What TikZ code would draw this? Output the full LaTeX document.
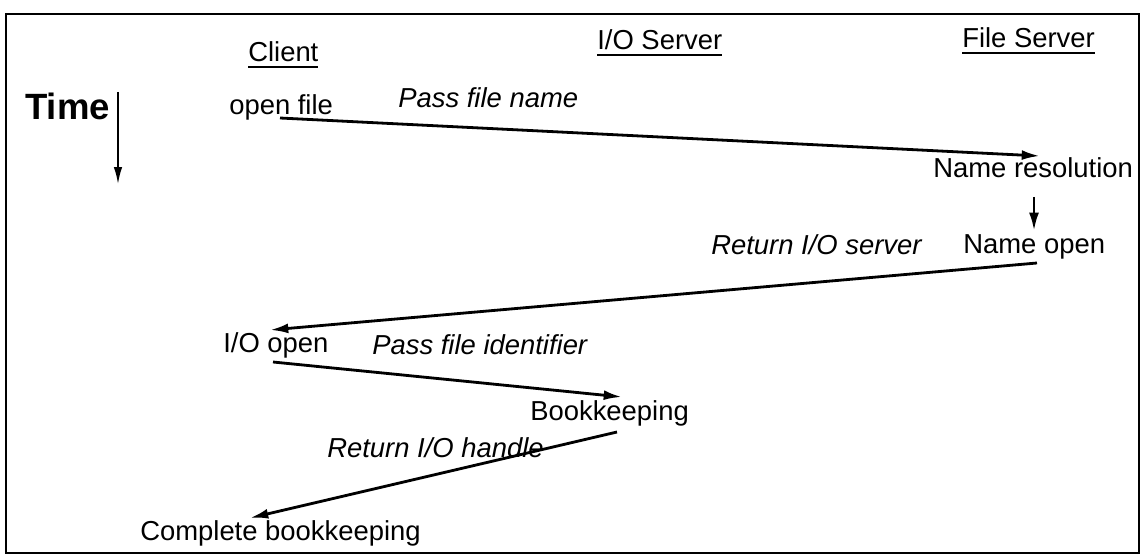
\documentclass[tikz,border=0pt]{standalone}
\usepackage{fontspec}
\setmainfont{Liberation Sans}
\usepackage{tikz}
\usetikzlibrary{
	arrows.meta,
	positioning
}
\newcommand{\hdrline}[1]{\leavevmode\vtop{\hbox{#1}\kern2.5pt\hrule height 1.6pt}}
\tikzset{
  % arrow
	cstmsg/.style     ={-{Latex[length=13pt,width=7pt]}, line width=2pt}, % message
	csttime/.style    ={-{Latex[length=12pt,width=6pt]}, line width=1.2pt}, % time axis
  % frame
	cstframe/.style   ={line width=1.5pt},
  % node
	cstnode/.style    ={inner sep=0pt, anchor=base west, font=\fontsize{19.5}{22}\selectfont},
	cstlabel/.style   ={cstnode, font=\fontsize{19.5}{22}\selectfont\itshape},
	cstbig/.style     ={cstnode, font=\fontsize{26}{30}\selectfont\bfseries}
}

\begin{document}
\begin{tikzpicture}[x=0.025cm,y=-0.025cm]
	\useasboundingbox (0,0) rectangle (1142,556);
	\draw[cstframe] (6,14) rectangle (1139,553);
	% column heads
	\node[cstnode] (client) at (248,62) {\hdrline{Client}};
	\node[cstnode] (ioserver) at (597,50) {\hdrline{I/O Server}};
	\node[cstnode] (fileserver) at (962,48) {\hdrline{File Server}};
	% time
	\node[cstbig] (time) at (25,120) {Time};
	\draw[csttime] ([shift={(93,-28)}]time.base west) -- ([shift={(93,64)}]time.base west);
	% events
	\node[cstnode] (open) at (229,115) {open file};
	\node[cstnode] (nres) at (933,178) {Name resolution};
	\node[cstnode] (nopen) at (963,254) {Name open};
	\node[cstnode] (ioopen) at (223,353) {I/O open};
	\node[cstnode] (book) at (530,420) {Bookkeeping};
	\node[cstnode] (done) at (140,540) {Complete bookkeeping};
	% messages
	\node[cstlabel] (m1) at (398,108) {Pass file name};
	\node[cstlabel] (m2) at (711,255) {Return I/O server};
	\node[cstlabel] (m3) at (372,355) {Pass file identifier};
	\node[cstlabel] (m4) at (327,457) {Return I/O handle};
	\draw[cstmsg] ([shift={(51,3)}]open.base west) -- ([shift={(107,-22)}]nres.base west);
	\draw[cstmsg] ([shift={(101,19)}]nres.base west) -- ([shift={(71,-23)}]nopen.base west);
	\draw[cstmsg] ([shift={(74,9)}]nopen.base west) -- ([shift={(47,-23)}]ioopen.base west);
	\draw[cstmsg] ([shift={(50,9)}]ioopen.base west) -- ([shift={(92,-23)}]book.base west);
	\draw[cstmsg] ([shift={(87,12)}]book.base west) -- ([shift={(110,-22)}]done.base west);
\end{tikzpicture}
\end{document}
